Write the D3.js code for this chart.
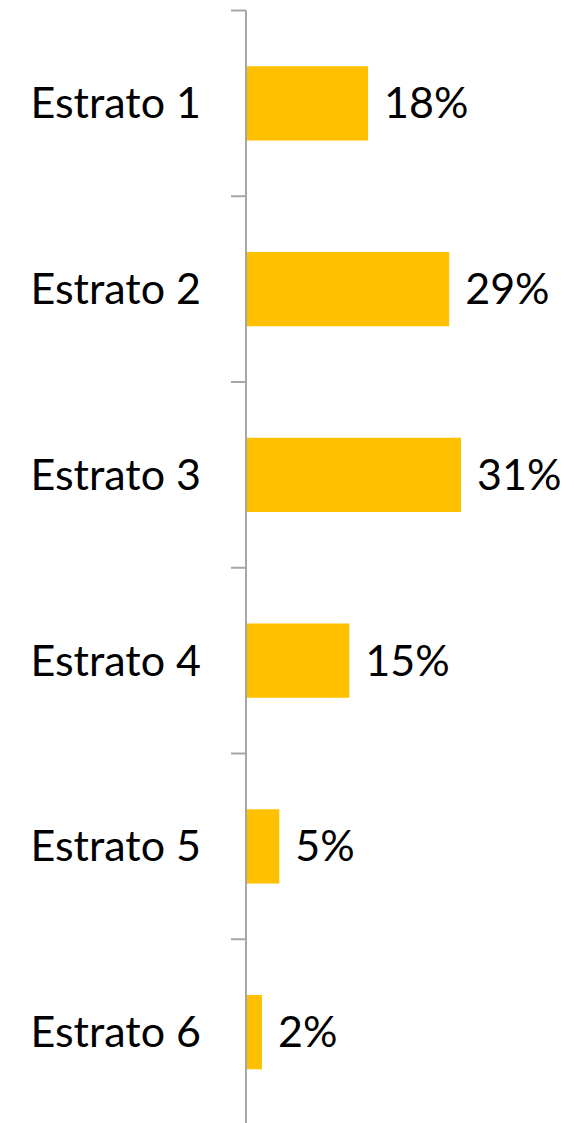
<!DOCTYPE html>
<html>
<head>
<meta charset="utf-8">
<script src="https://cdn.jsdelivr.net/npm/d3@7"></script>
<style>
  body { margin: 0; background: #fff; }
  text { font-family: Lato, "Open Sans", sans-serif; fill: #000; }
</style>
</head>
<body>
<div id="chart"></div>
<script>
  // categories and shares
  var categories = ["Estrato 1", "Estrato 2", "Estrato 3", "Estrato 4", "Estrato 5", "Estrato 6"];
  var shares = [0.176, 0.293, 0.31, 0.149, 0.048, 0.023];

  var width = 569, height = 1123;
  var margin = { top: 10.5, left: 246, right: 40, bottom: -2 };

  var svg = d3.select("#chart")
    .append("svg")
    .attr("width", width)
    .attr("height", height);

  var y = d3.scaleBand()
    .domain(categories)
    .range([margin.top, height - margin.bottom])
    .paddingInner(0.6)
    .paddingOuter(0.3);

  var x = d3.scaleLinear()
    .domain([0, 0.31])
    .range([margin.left, margin.left + 215]);

  var data = categories.map(function (c, i) { return { cat: c, v: shares[i] }; });

  // bars
  svg.selectAll(".bar")
    .data(data)
    .enter().append("rect")
    .attr("class", "bar")
    .attr("x", x(0) + 1)
    .attr("y", function (d) { return y(d.cat); })
    .attr("height", y.bandwidth())
    .attr("width", function (d) { return x(d.v) - x(0) - 1; })
    .attr("fill", "#ffc000");

  // axis line + tick marks at band boundaries
  var step = y.step();
  var ax = svg.append("g").attr("stroke", "#a6a6a6").attr("stroke-width", 2);
  ax.append("line")
    .attr("x1", x(0)).attr("x2", x(0))
    .attr("y1", margin.top).attr("y2", height);
  var bounds = d3.range(categories.length).map(function (i) { return margin.top + i * step; });
  ax.selectAll(".tick")
    .data(bounds)
    .enter().append("line")
    .attr("x1", x(0) - 15).attr("x2", x(0))
    .attr("y1", function (d) { return d; })
    .attr("y2", function (d) { return d; });

  // category labels
  svg.selectAll(".cat")
    .data(data)
    .enter().append("text")
    .attr("class", "cat")
    .attr("x", 201)
    .attr("y", function (d) { return y(d.cat) + y.bandwidth() / 2; })
    .attr("dy", "0.35em")
    .attr("text-anchor", "end")
    .style("font-size", "43px")
    .text(function (d) { return d.cat; });

  // value labels
  var fmt = d3.format(".0%");
  svg.selectAll(".val")
    .data(data)
    .enter().append("text")
    .attr("class", "val")
    .attr("x", function (d) { return x(d.v) + 16; })
    .attr("y", function (d) { return y(d.cat) + y.bandwidth() / 2; })
    .attr("dy", "0.35em")
    .style("font-size", "43px")
    .text(function (d) { return fmt(d.v); });
</script>
</body>
</html>
